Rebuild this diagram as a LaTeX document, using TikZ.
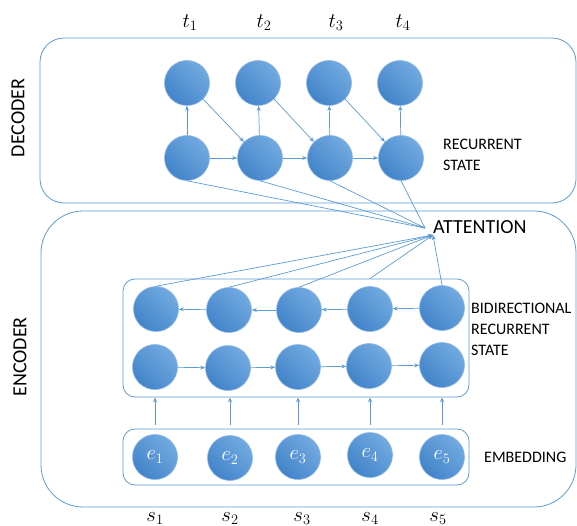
\documentclass[tikz,border=0pt]{standalone}
\usepackage{fontspec}
\setmainfont{Carlito}
\usetikzlibrary{arrows.meta}
\definecolor{lineblue}{RGB}{91,155,213}
\definecolor{celldark}{RGB}{66,132,202}
\definecolor{celllight}{RGB}{114,170,224}
\definecolor{cellrim}{RGB}{142,184,230}
\tikzset{
  cell/.style={circle, minimum size=45, inner sep=0pt, draw=cellrim, line width=.6pt,
    top color=celllight, bottom color=celldark, shading angle=-45,
    text=white, font=\fontsize{20}{20}\selectfont},
  conn/.style={draw=lineblue, line width=.7pt},
  frame/.style={draw=lineblue, line width=.8pt},
  group/.style={frame, rectangle, rounded corners=12, inner sep=0pt},
  blocktext/.style={font=\fontsize{16}{21}\selectfont, align=left, anchor=north west, inner sep=0pt},
  sidetext/.style={font=\fontsize{20}{24}\selectfont, rotate=90},
  symtext/.style={font=\fontsize{21}{21}\selectfont, inner sep=0pt},
}
\begin{document}
\begin{tikzpicture}[x=1pt, y=-1pt, >={Stealth[length=5pt,width=4pt]}]
\useasboundingbox (0,0) rectangle (577,526);

% decoder
\draw[frame, rounded corners=24](40,38) rectangle (576,203);
\node[sidetext] (declabel) at (18,118) {DECODER};

\node[symtext] (t1) at (190,23) {$t_1$};
\node[symtext] (t2) at (264,23) {$t_2$};
\node[symtext] (t3) at (336,23) {$t_3$};
\node[symtext] (t4) at (403,23) {$t_4$};

\node[cell] (dt1) at (187,83) {};
\node[cell] (dt2) at (258,83) {};
\node[cell] (dt3) at (329,83) {};
\node[cell] (dt4) at (400,83) {};
\node[cell] (db1) at (187,158) {};
\node[cell] (db2) at (260,158) {};
\node[cell] (db3) at (330,158) {};
\node[cell] (db4) at (401,158) {};
\node[blocktext] (dectext) at (443,139) {RECURRENT\\STATE};

\draw[conn,->](db1)--(dt1);
\draw[conn,->](db2)--(dt2);
\draw[conn,->](db3)--(dt3);
\draw[conn,->](db4)--(dt4);
\draw[conn,->](db1)--(db2);
\draw[conn,->](db2)--(db3);
\draw[conn,->](db3)--(db4);
\draw[conn,->](dt1.south east)--(db2.north west);
\draw[conn,->](dt2.south east)--(db3.north west);
\draw[conn,->](dt3.south east)--(db4.north west);

% attention
\node[font=\fontsize{20}{24}\selectfont, anchor=west, inner sep=0pt] (att) at (433,227) {ATTENTION};
\coordinate (attin) at (425,228);
\coordinate (attar) at (433,235);
\draw[conn](db1.south)--(attin);
\draw[conn](db2.south)--(attin);
\draw[conn](db3.south)--(attin);
\draw[conn](db4.south)--(attin);

% encoder
\draw[frame, rounded corners=42](41,211) rectangle (576,507);
\node[sidetext] (enclabel) at (20,357) {ENCODER};

\node[group, minimum width=346, minimum height=118] (bibox) at (296,338) {};
\node[group, minimum width=346, minimum height=56] (embbox) at (296,457) {};

\node[cell] (et1) at (156,309) {};
\node[cell] (et2) at (229,310) {};
\node[cell] (et3) at (299,310) {};
\node[cell] (et4) at (370,309) {};
\node[cell] (et5) at (442,308) {};
\node[cell] (eb1) at (155,367) {};
\node[cell] (eb2) at (228,368) {};
\node[cell] (eb3) at (298,367) {};
\node[cell] (eb4) at (369,366) {};
\node[cell] (eb5) at (442,365) {};
\node[blocktext] (bitext) at (471,303) {BIDIRECTIONAL\\RECURRENT\\STATE};

\draw[conn,->](et5)--(et4);
\draw[conn,->](et4)--(et3);
\draw[conn,->](et3)--(et2);
\draw[conn,->](et2)--(et1);
\draw[conn,->](eb1)--(eb2);
\draw[conn,->](eb2)--(eb3);
\draw[conn,->](eb3)--(eb4);
\draw[conn,->](eb4)--(eb5);

\draw[conn,->](et1.north)--(attar);
\draw[conn,->](et2.north)--(attar);
\draw[conn,->](et3.north)--(attar);
\draw[conn,->](et4.north |- bibox.north)--(attar);
\draw[conn,->](et5.north)--(attar);

\node[cell] (e1) at (155,457) {$e_1$};
\node[cell] (e2) at (230,458) {$e_2$};
\node[cell] (e3) at (298,457) {$e_3$};
\node[cell] (e4) at (370,455) {$e_4$};
\node[cell] (e5) at (442,457) {$e_5$};
\node[blocktext, anchor=west] (embtext) at (484,457) {EMBEDDING};

\draw[conn,->, shorten <=4pt](e1.north |- embbox.north)--(e1.north |- bibox.south);
\draw[conn,->, shorten <=4pt](e2.north |- embbox.north)--(e2.north |- bibox.south);
\draw[conn,->, shorten <=4pt](e3.north |- embbox.north)--(e3.north |- bibox.south);
\draw[conn,->, shorten <=4pt](e4.north |- embbox.north)--(e4.north |- bibox.south);
\draw[conn,->, shorten <=4pt](e5.north |- embbox.north)--(e5.north |- bibox.south);

\node[symtext, anchor=north] (s1) at (155,512) {$s_1$};
\node[symtext, anchor=north] (s2) at (230,512) {$s_2$};
\node[symtext, anchor=north] (s3) at (302,512) {$s_3$};
\node[symtext, anchor=north] (s4) at (370,512) {$s_4$};
\node[symtext, anchor=north] (s5) at (438,512) {$s_5$};
\end{tikzpicture}
\end{document}
